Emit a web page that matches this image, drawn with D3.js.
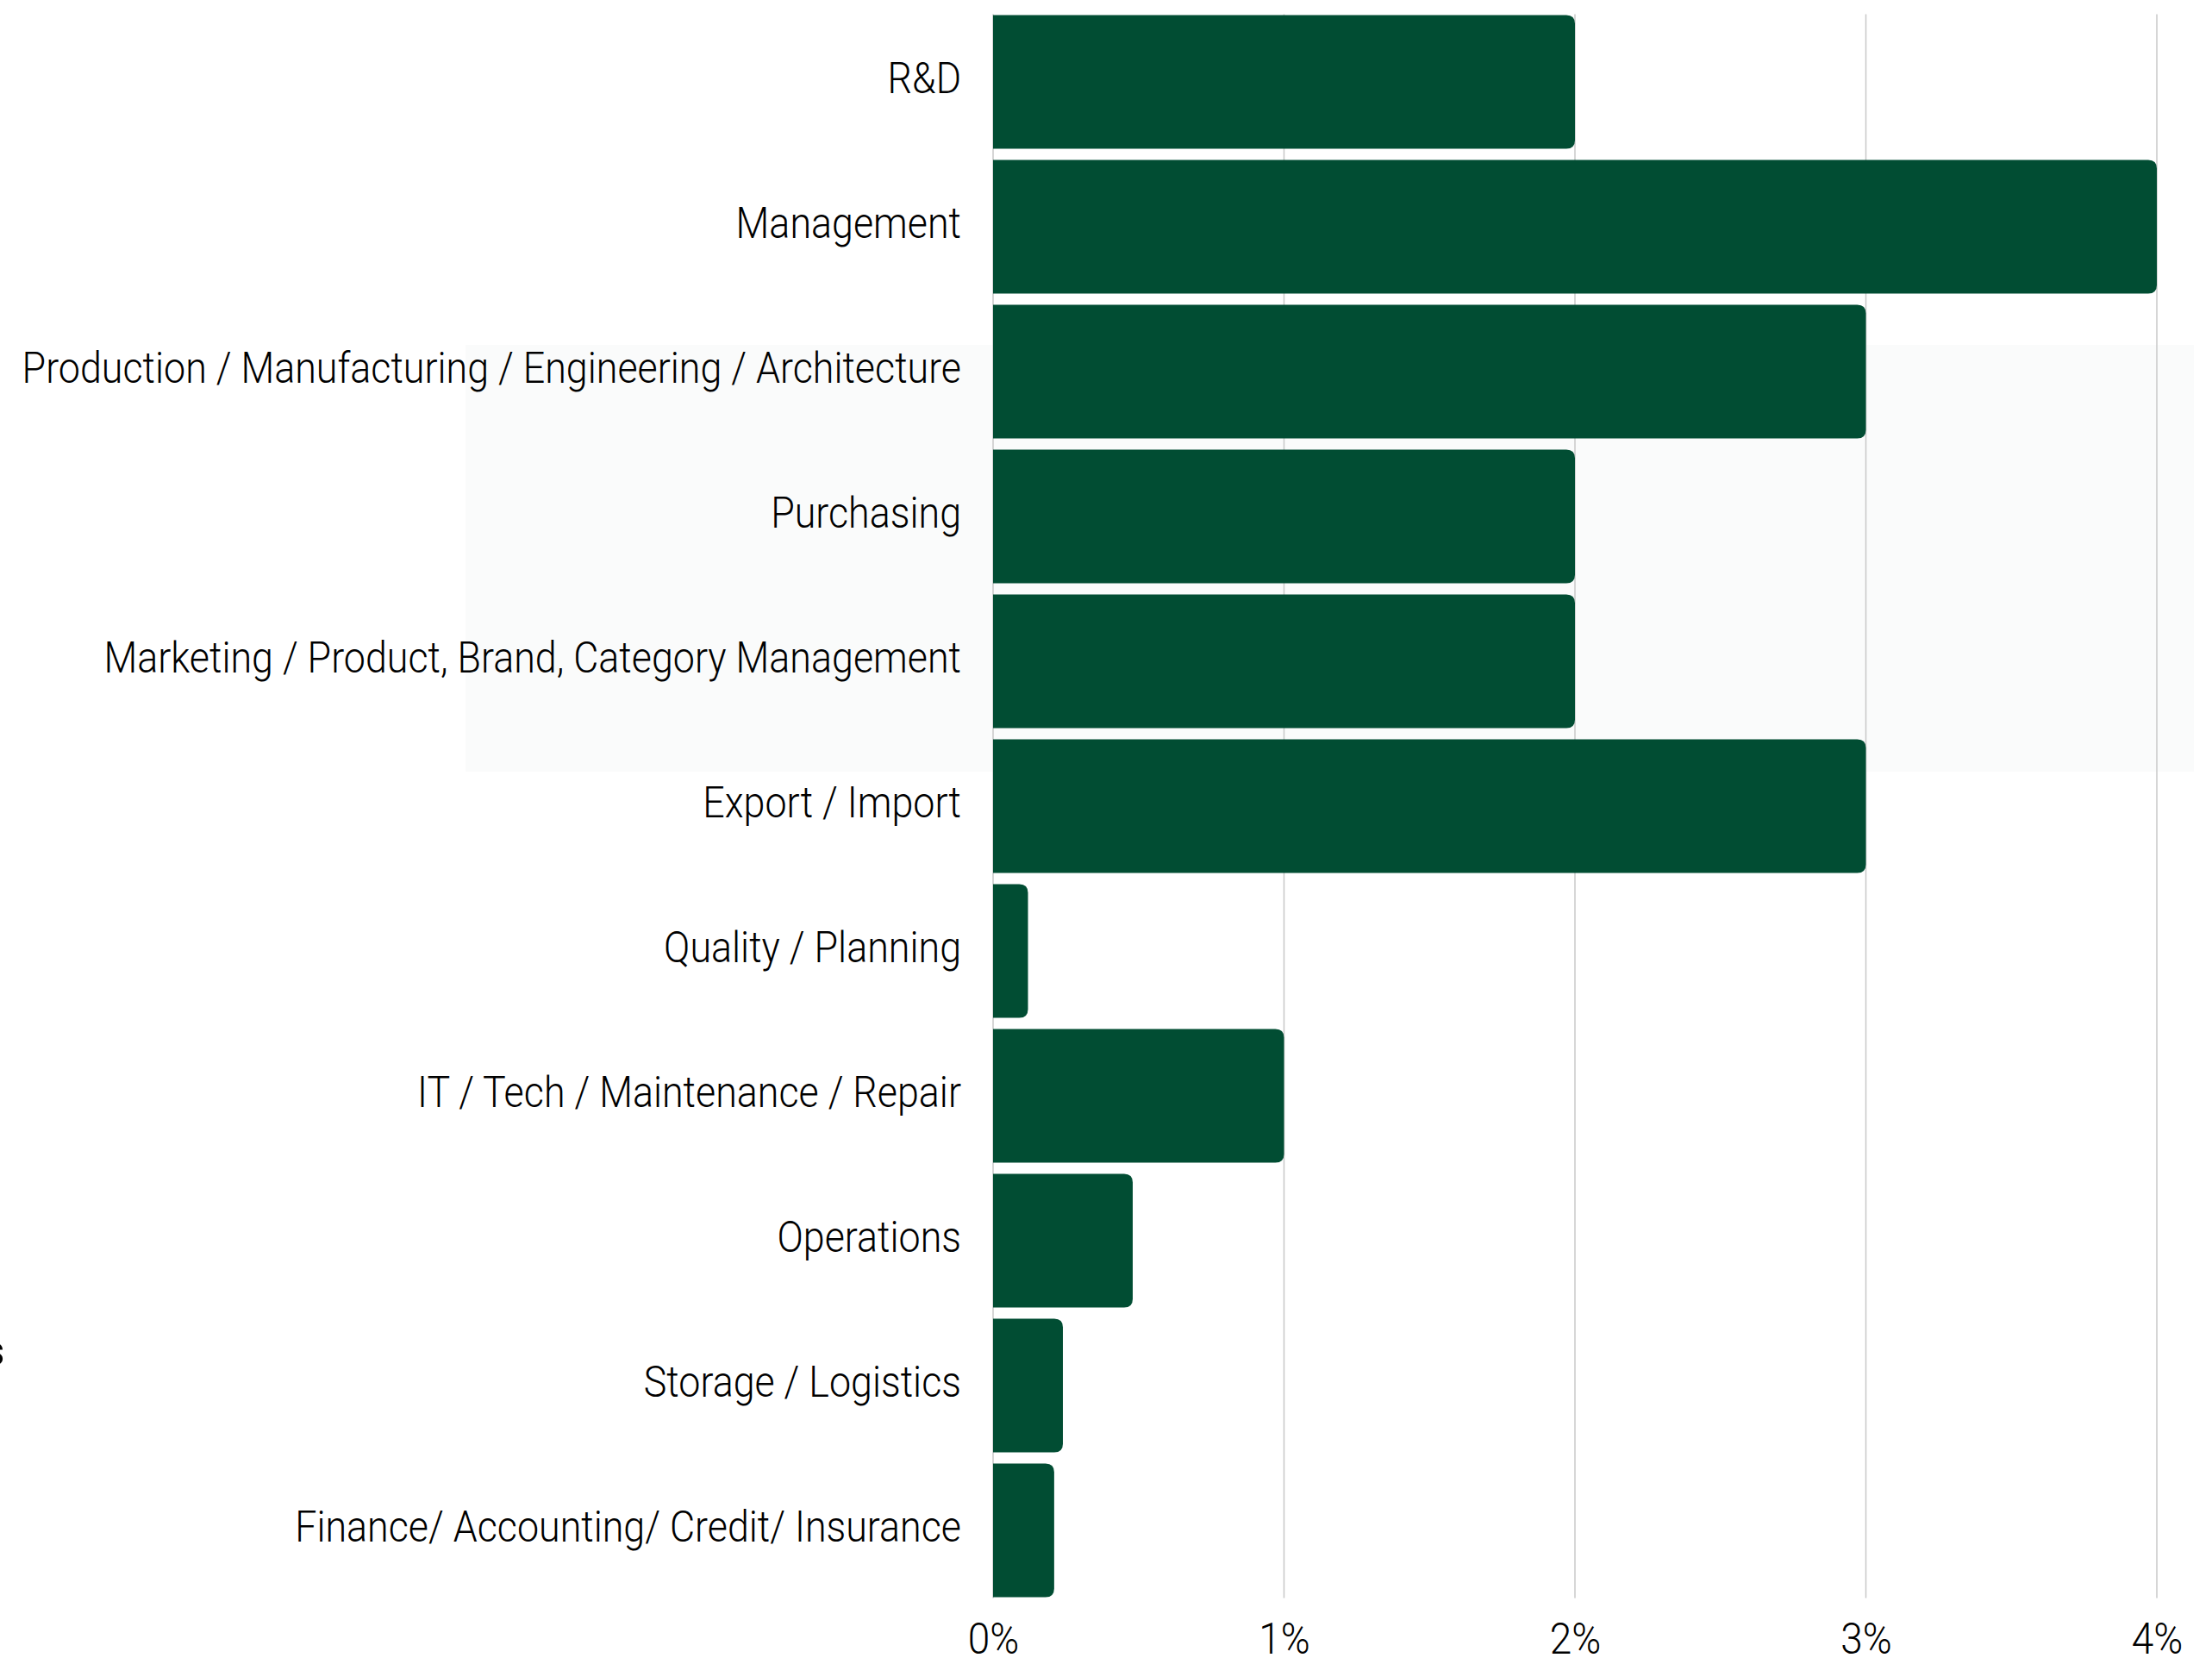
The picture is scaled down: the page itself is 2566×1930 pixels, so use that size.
<!DOCTYPE html>
<html>
<head>
<meta charset="utf-8">
<script src="https://cdn.jsdelivr.net/npm/d3@7"></script>
<style>
  html, body { margin: 0; padding: 0; background: #ffffff; }
  svg { display: block; }
  text { font-family: Roboto, "Liberation Sans", sans-serif; fill: #000; }
</style>
</head>
<body>
<svg id="chart" width="2566" height="1930"></svg>
<script>
const categories = [
  "R&D",
  "Management",
  "Production / Manufacturing / Engineering / Architecture",
  "Purchasing",
  "Marketing / Product, Brand, Category Management",
  "Export / Import",
  "Quality / Planning",
  "IT / Tech / Maintenance / Repair",
  "Operations",
  "Storage / Logistics",
  "Finance/ Accounting/ Credit/ Insurance"
];
const values = [2, 4, 3, 2, 2, 3, 0.12, 1, 0.48, 0.24, 0.21];
const tickValues = [0, 1, 2, 3, 4];
const tickLabels = ["0%", "1%", "2%", "3%", "4%"];

const svg = d3.select("#chart");
const x0 = 1152, x4 = 2502;
const yTop = 11, yBot = 1859;
const barColor = "#014d33";
const gridColor = "#c8c8c8";
const sxLabel = 0.896;
const sxTick = 0.92;

const x = d3.scaleLinear().domain([0, 4]).range([x0, x4]);
const y = d3.scaleBand().domain(categories).range([yTop, yBot])
  .paddingInner(0.078).paddingOuter(0.039);

// faint background panel
svg.append("rect")
  .attr("x", 540).attr("y", 400).attr("width", 2005).attr("height", 495)
  .attr("fill", "#fafbfb");

// gridlines
svg.append("g").selectAll("line").data(tickValues).join("line")
  .attr("x1", d => x(d)).attr("x2", d => x(d))
  .attr("y1", y(categories[0]) - 1).attr("y2", y(categories[categories.length - 1]) + y.bandwidth() + 1)
  .attr("stroke", gridColor).attr("stroke-width", 1.5);

// bars with rounded right corners
const r = 10;
function barPath(v, cat) {
  const xa = x(0), xb = x(v), ya = y(cat), h = y.bandwidth();
  const rr = Math.min(r, (xb - xa) / 2, h / 2);
  return `M${xa},${ya} H${xb - rr} Q${xb},${ya} ${xb},${ya + rr} V${ya + h - rr} Q${xb},${ya + h} ${xb - rr},${ya + h} H${xa} Z`;
}
svg.append("g").selectAll("path").data(categories).join("path")
  .attr("d", (c, i) => barPath(values[i], c))
  .attr("fill", barColor);

// category labels
svg.append("g").selectAll("text").data(categories).join("text")
  .attr("transform", c => `translate(${x0 - 37},${y(c) + y.bandwidth() / 2 + 13}) scale(${sxLabel},1)`)
  .attr("text-anchor", "end")
  .attr("font-size", 50)
  .attr("font-weight", 300)
  .text(c => c);

// x tick labels
const xAxis = d3.axisBottom(x).tickValues(tickValues).tickFormat((d, i) => tickLabels[i]).tickSize(0).tickPadding(0);
const gx = svg.append("g");
gx.call(xAxis);
gx.select(".domain").remove();
gx.selectAll(".tick text")
  .attr("y", 0).attr("dy", null)
  .attr("transform", `translate(0,1918) scale(${sxTick},1)`)
  .attr("font-size", 50)
  .attr("font-weight", 300)
  .attr("font-family", "Roboto, 'Liberation Sans', sans-serif")
  .attr("fill", "#000");

// clipped fragment at left edge
svg.append("text")
  .attr("x", 5).attr("y", 1584)
  .attr("text-anchor", "end")
  .attr("font-size", 50)
  .attr("font-weight", "bold")
  .text("s");
</script>
</body>
</html>
